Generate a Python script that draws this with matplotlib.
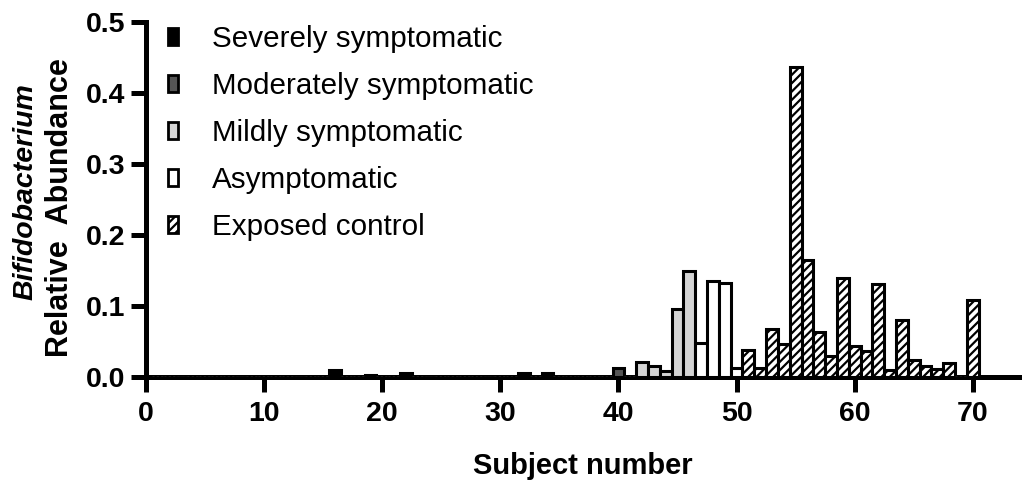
import numpy as np
import matplotlib
matplotlib.use("Agg")
import matplotlib.pyplot as plt
from matplotlib.patches import Patch

matplotlib.rcParams["font.family"] = ["Liberation Sans", "DejaVu Sans"]
matplotlib.rcParams["hatch.linewidth"] = 1.6

# subject numbers per group and their relative abundance
severe_subj = list(range(1, 40))
severe_vals = [0.0] * 39
for s, v in [(16, 0.010), (19, 0.003), (22, 0.005), (32, 0.006), (34, 0.006)]:
    severe_vals[s - 1] = v

moderate_subj = [40, 41]
moderate_vals = [0.013, 0.0]

mild_subj = [42, 43, 44, 45, 46]
mild_vals = [0.021, 0.016, 0.009, 0.096, 0.150]

asym_subj = [47, 48, 49, 50]
asym_vals = [0.048, 0.135, 0.132, 0.012]

exposed_subj = list(range(51, 71))
exposed_vals = [0.038, 0.012, 0.067, 0.046, 0.437, 0.165, 0.063, 0.029, 0.140, 0.043,
                0.036, 0.131, 0.010, 0.080, 0.024, 0.015, 0.011, 0.020, 0.0, 0.108]

groups = [
    ("Severely symptomatic", severe_subj, severe_vals, "black", None),
    ("Moderately symptomatic", moderate_subj, moderate_vals, "#555555", None),
    ("Mildly symptomatic", mild_subj, mild_vals, "#d4d4d4", None),
    ("Asymptomatic", asym_subj, asym_vals, "white", None),
    ("Exposed control", exposed_subj, exposed_vals, "white", "////"),
]

fig = plt.figure(figsize=(10.22, 4.87), dpi=100)
ax = fig.add_axes([146 / 1022, 1 - 377 / 487, (1020 - 146) / 1022, (377 - 22) / 487])

handles = []
for label, subj, vals, color, hatch in groups:
    subj = np.array(subj)
    vals = np.array(vals)
    nz = vals > 0
    ax.bar(subj[nz], vals[nz], width=1.0, color=color, edgecolor="black",
           linewidth=2.2, hatch=hatch, zorder=3)
    ax.bar(subj[~nz], vals[~nz], width=1.0, color="none", edgecolor="#bbbbbb",
           linewidth=0.8, linestyle=(0, (2, 2)), zorder=4)
    handles.append(Patch(facecolor=color, edgecolor="black", linewidth=2.0,
                         hatch=hatch, label=label))

ax.set_xlim(0, 74)
ax.set_ylim(0, 0.5)
ax.set_xticks(range(0, 71, 10))
ax.set_yticks([0.0, 0.1, 0.2, 0.3, 0.4, 0.5])
ax.set_yticklabels(["0.0", "0.1", "0.2", "0.3", "0.4", "0.5"])

for side in ("top", "right"):
    ax.spines[side].set_visible(False)
for side in ("left", "bottom"):
    ax.spines[side].set_linewidth(3.6)
    ax.spines[side].set_zorder(2)
ax.spines["left"].set_bounds(0, 0.5)
ax.tick_params(axis="both", length=10.5, width=3.6, labelsize=20.5)
ax.tick_params(axis="x", pad=6.5)
ax.tick_params(axis="y", pad=4.5)
for lab in ax.get_xticklabels() + ax.get_yticklabels():
    lab.set_fontweight("bold")

ax.set_xlabel("Subject number", fontsize=21, fontweight="bold", labelpad=18)

fig.text(26 / 1022, 1 - 192 / 487, "Bifidobacterium", rotation=90,
         ha="center", va="center", fontsize=20.5, fontweight="bold", style="italic")
fig.text(60 / 1022, 1 - 208 / 487, "Relative  Abundance", rotation=90,
         ha="center", va="center", fontsize=22, fontweight="bold")

leg = ax.legend(handles=handles, loc="upper left",
                bbox_to_anchor=(168 / 1022, 1 - 25 / 487),
                bbox_transform=fig.transFigure, borderaxespad=0, borderpad=0,
                frameon=False, fontsize=21.3, handlelength=0.35, handleheight=0.5,
                handletextpad=1.15, labelspacing=0.64)

fig.savefig("out.png", dpi=100)
